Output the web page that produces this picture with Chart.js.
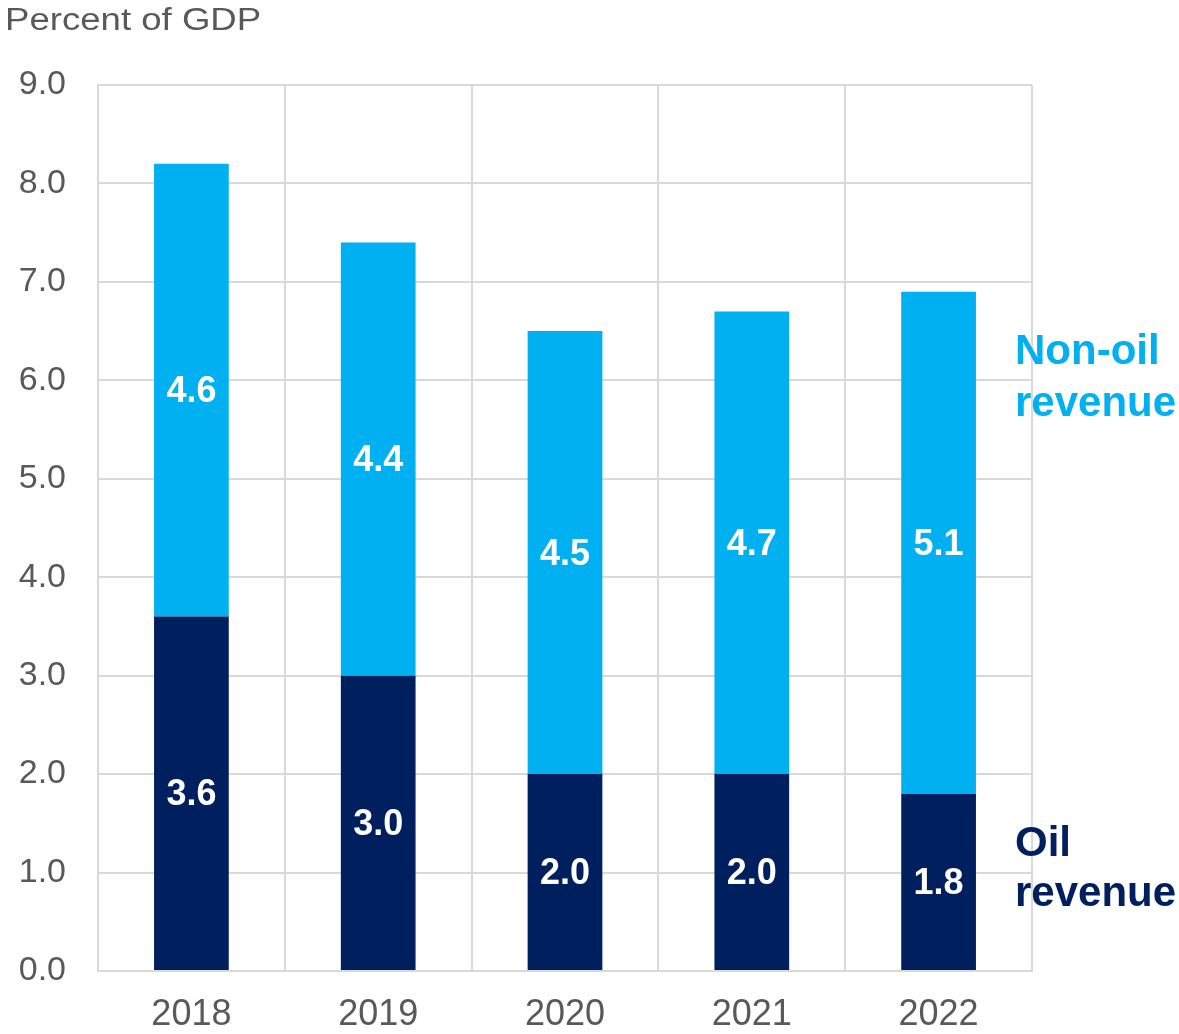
<!DOCTYPE html>
<html>
<head>
<meta charset="utf-8">
<script src="https://cdn.jsdelivr.net/npm/chart.js@4/dist/chart.umd.min.js"></script>
<style>
  html, body { margin: 0; padding: 0; background: #fff; }
  #wrap { width: 1179px; height: 1034px; position: relative; }
</style>
</head>
<body>
<div id="wrap"><canvas id="rev"></canvas></div>
<script>
( function () {
	'use strict';

	var YEARS      = [ '2018', '2019', '2020', '2021', '2022' ];
	var OIL        = [ 3.6, 3.0, 2.0, 2.0, 1.8 ];
	var NON_OIL    = [ 4.6, 4.4, 4.5, 4.7, 5.1 ];

	var NAVY   = '#001f5f';
	var CYAN   = '#00b0f0';
	var GREY   = '#595959';
	var GRIDC  = '#d9d9d9';
	var FONT   = '"Liberation Sans", Arial, sans-serif';

	Chart.defaults.font.family = FONT;
	Chart.defaults.color       = GREY;

	// white value labels centred inside each stacked segment
	var segmentLabels = {
		id: 'segmentLabels',
		afterDatasetsDraw: function ( chart ) {
			var ctx = chart.ctx;
			ctx.save();
			ctx.fillStyle    = '#fff';
			ctx.font         = 'bold 36px ' + FONT;
			ctx.textAlign    = 'center';
			ctx.textBaseline = 'middle';
			chart.data.datasets.forEach( function ( ds, di ) {
				chart.getDatasetMeta( di ).data.forEach( function ( bar, i ) {
					var mid = ( bar.y + bar.base ) / 2;
					ctx.fillText( ds.data[ i ].toFixed( 1 ), bar.x, mid + 2 );
				} );
			} );
			ctx.restore();
		}
	};

	// axis title top-left and series names at the right edge
	var annotations = {
		id: 'annotations',
		afterDraw: function ( chart ) {
			var ctx = chart.ctx;
			var y   = chart.scales.y;
			ctx.save();
			ctx.textBaseline = 'middle';
			ctx.textAlign    = 'left';

			// title is set a little wide
			ctx.save();
			ctx.fillStyle = GREY;
			ctx.font      = '31px ' + FONT;
			ctx.translate( 5, 21 );
			ctx.scale( 1.18, 1 );
			ctx.fillText( 'Percent of GDP', 0, 0 );
			ctx.restore();

			ctx.font      = 'bold 42px ' + FONT;
			ctx.fillStyle = CYAN;
			ctx.fillText( 'Non-oil', 1015, y.getPixelForValue( 6.28 ) );
			ctx.fillText( 'revenue', 1015, y.getPixelForValue( 5.76 ) );
			ctx.fillStyle = NAVY;
			ctx.fillText( 'Oil', 1015, y.getPixelForValue( 1.29 ) );
			ctx.fillText( 'revenue', 1015, y.getPixelForValue( 0.78 ) );
			ctx.restore();
		}
	};

	new Chart( document.getElementById( 'rev' ), {
		type: 'bar',
		data: {
			labels: YEARS,
			datasets: [
				{
					label           : 'Oil revenue',
					data            : OIL,
					backgroundColor : NAVY,
					barPercentage   : 0.4,
					categoryPercentage: 1.0
				},
				{
					label           : 'Non-oil revenue',
					data            : NON_OIL,
					backgroundColor : CYAN,
					barPercentage   : 0.4,
					categoryPercentage: 1.0
				}
			]
		},
		options: {
			responsive          : true,
			maintainAspectRatio : false,
			animation           : false,
			layout: { padding: { top: 85, right: 147, left: 0, bottom: 0 } },
			plugins: {
				legend  : { display: false },
				tooltip : { enabled: false }
			},
			scales: {
				x: {
					stacked : true,
					grid    : { color: GRIDC, lineWidth: 2, drawTicks: false, offset: true },
					border  : { color: GRIDC, width: 2 },
					ticks   : { font: { size: 36 }, color: GREY, padding: 22 },
					afterFit: function ( s ) { s.height = 63; }
				},
				y: {
					stacked : true,
					min     : 0,
					max     : 9,
					grid    : { color: GRIDC, lineWidth: 2, drawTicks: false },
					border  : { color: GRIDC, width: 2 },
					ticks   : {
						stepSize : 1,
						font     : { size: 34 },
						color    : GREY,
						padding  : 32,
						callback : function ( v ) { return v.toFixed( 1 ); }
					},
					afterFit: function ( s ) { s.width = 98; }
				}
			}
		},
		plugins: [ segmentLabels, annotations ]
	} );
}() );
</script>
</body>
</html>
